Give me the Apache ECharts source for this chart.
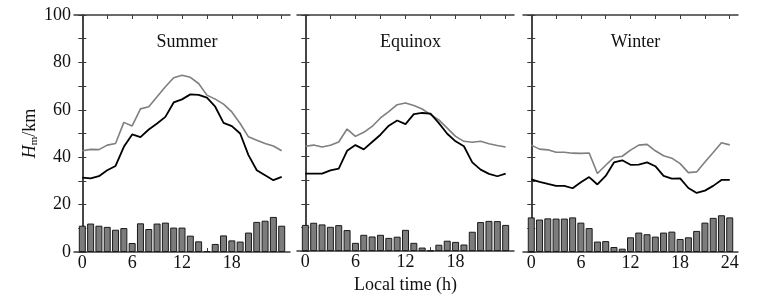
<!DOCTYPE html>
<html>
<head>
<meta charset="utf-8">
<script src="https://cdn.jsdelivr.net/npm/echarts@6/dist/echarts.min.js"></script>
<style>
  html, body { margin: 0; padding: 0; background: #fff; }
  #chart { width: 764px; height: 299px; }
</style>
</head>
<body>
<div id="chart"></div>
<script>
const hours = [0,1,2,3,4,5,6,7,8,9,10,11,12,13,14,15,16,17,18,19,20,21,22,23,24];
const seasons = ['Summer', 'Equinox', 'Winter'];

// gray = upper curve, black = lower curve, bars = counts
const summer_gray = [42.7,43.3,43.2,45.1,45.8,54.7,53.2,60.4,61.3,65.5,69.7,73.5,74.6,73.7,71.1,66.2,64.5,62.4,59.1,54.2,48.6,47.2,45.8,44.7,42.7];
const summer_black = [31.4,31.1,32.0,34.5,36.3,44.4,49.6,48.5,51.7,54.2,57.0,63.1,64.4,66.5,66.3,65.1,61.3,54.5,53.1,50.0,40.9,34.5,32.4,30.3,31.7];
const summer_bars = [11.1,12.0,11.1,10.6,9.4,10.1,3.8,12.1,9.7,12.0,12.4,10.3,10.3,6.9,4.5,0.4,3.4,7.0,4.9,4.4,8.2,12.7,13.2,14.8,11.1];

const equinox_gray = [44.4,44.9,44.1,44.8,46.2,51.7,48.6,50.3,52.8,56.4,59.1,62.0,62.7,61.7,60.2,57.8,55.6,52.1,48.6,46.5,46.1,46.5,45.5,44.7,44.1];
const equinox_black = [32.8,32.8,32.8,34.2,34.9,42.5,44.9,43.1,46.2,49.3,53.1,55.3,53.8,58.0,58.5,58.2,54.2,49.7,46.5,44.4,37.6,34.5,32.7,31.7,32.8];
const equinox_bars = [11.1,12.0,11.3,10.3,11.0,8.9,3.5,6.9,6.2,6.9,5.6,6.1,9.0,3.5,1.5,0.3,2.7,4.4,3.9,2.8,8.2,12.3,12.8,12.7,11.1];

const winter_gray = [45.1,43.4,43.1,42.1,42.1,41.7,41.6,41.8,33.1,36.6,39.9,40.4,43.0,45.1,45.4,42.7,40.6,39.6,37.3,33.5,33.8,38.0,42.0,46.1,45.2];
const winter_black = [30.6,29.6,28.7,27.9,27.9,26.9,29.4,31.6,28.5,32.1,37.8,38.7,36.8,36.9,37.8,36.2,32.1,31.0,31.1,27.0,24.9,25.9,27.9,30.4,30.4];
const winter_bars = [14.6,13.7,14.2,14.1,14.1,14.6,12.4,10.1,4.4,4.6,2.1,1.4,6.2,8.2,7.5,6.5,8.2,8.6,5.5,6.2,8.9,12.4,14.4,15.5,14.6];

const tick_hours = [0,3,6,9,12,15,18,21,24];
const label_hours_short = [0,6,12,18];
const label_hours_full = [0,6,12,18,24];

const all_gray = [summer_gray, equinox_gray, winter_gray];
const all_black = [summer_black, equinox_black, winter_black];
const all_bars = [summer_bars, equinox_bars, winter_bars];

const font = 'Liberation Serif';
const fs = 18;
const frame_color = '#3a3a3a';
const panels = [
    {left: 74, width: 216},
    {left: 297, width: 217},
    {left: 523, width: 215},
];

function pairs(vals) {
    return hours.map((h, i) => [h, vals[i]]);
}

let grid = [], xAxis = [], yAxis = [], series = [], title = [];

panels.forEach((p, k) => {
    grid.push({left: p.left, width: p.width, top: 15, height: 237});
    title.push({
        text: seasons[k], left: p.left + p.width / 2, top: 28, textAlign: 'center',
        textStyle: {fontFamily: font, fontSize: fs, fontWeight: 'normal', color: '#111'}
    });

    // bottom x axis
    xAxis.push({
        type: 'value', gridIndex: k, min: -1, max: 25, position: 'bottom',
        splitLine: {show: false},
        axisLine: {show: true, onZero: false, lineStyle: {color: frame_color, width: 1.5}},
        axisTick: {show: true, inside: true, length: 4, customValues: tick_hours, lineStyle: {color: frame_color}},
        axisLabel: {
            show: true, margin: 2, customValues: k === 2 ? label_hours_full : label_hours_short,
            fontFamily: font, fontSize: fs, color: '#111'
        },
        name: k === 1 ? 'Local time (h)' : '', nameLocation: 'middle', nameGap: 16,
        nameTextStyle: {fontFamily: font, fontSize: fs, color: '#111'}
    });
    // top x axis (frame + ticks)
    xAxis.push({
        type: 'value', gridIndex: k, min: -1, max: 25, position: 'top',
        splitLine: {show: false},
        axisLine: {show: true, onZero: false, lineStyle: {color: frame_color, width: 1.5}},
        axisTick: {show: true, inside: true, length: 4, customValues: tick_hours, lineStyle: {color: frame_color}},
        axisLabel: {show: false}
    });
    // left y axis
    yAxis.push({
        type: 'value', gridIndex: k, min: 0, max: 100, interval: 10, position: 'left',
        splitLine: {show: false},
        axisLine: {show: true, lineStyle: {color: frame_color, width: 1.5}},
        axisTick: {show: true, inside: true, length: 4, lineStyle: {color: frame_color}},
        axisLabel: {
            show: k === 0, margin: 3, fontFamily: font, fontSize: fs, color: '#111',
            formatter: (v) => (v % 20 === 0 ? String(v) : '')
        },
        name: k === 0 ? '{i|H}{s|m}{n|/km}' : '', nameLocation: 'middle', nameRotate: 90, nameGap: 32,
        nameTextStyle: {
            fontFamily: font, fontSize: fs, color: '#111',
            rich: {
                i: {fontFamily: font, fontSize: fs, fontStyle: 'italic', color: '#111'},
                s: {fontFamily: font, fontSize: 11, color: '#111', padding: [8, 0, 0, 0]},
                n: {fontFamily: font, fontSize: fs, color: '#111'}
            }
        }
    });
    // right y axis (frame + ticks)
    yAxis.push({
        type: 'value', gridIndex: k, min: 0, max: 100, interval: 10, position: 'right',
        splitLine: {show: false},
        axisLine: {show: true, lineStyle: {color: frame_color, width: 1.5}},
        axisTick: {show: true, inside: true, length: 4, lineStyle: {color: frame_color}},
        axisLabel: {show: false}
    });

    series.push({
        type: 'bar', xAxisIndex: 2 * k, yAxisIndex: 2 * k, data: pairs(all_bars[k]),
        barWidth: 7, silent: true,
        itemStyle: {color: '#7c7c7c', borderColor: '#1a1a1a', borderWidth: 1}
    });
    series.push({
        type: 'line', xAxisIndex: 2 * k, yAxisIndex: 2 * k, data: pairs(all_gray[k]),
        showSymbol: false, silent: true,
        lineStyle: {color: '#7f7f7f', width: 1.6}
    });
    series.push({
        type: 'line', xAxisIndex: 2 * k, yAxisIndex: 2 * k, data: pairs(all_black[k]),
        showSymbol: false, silent: true,
        lineStyle: {color: '#000', width: 1.8}
    });
});

let my_chart = echarts.init(document.getElementById('chart'), null, {renderer: 'canvas'});
my_chart.setOption({
    animation: false,
    backgroundColor: '#fff',
    title: title,
    grid: grid,
    xAxis: xAxis,
    yAxis: yAxis,
    series: series
});
</script>
</body>
</html>
